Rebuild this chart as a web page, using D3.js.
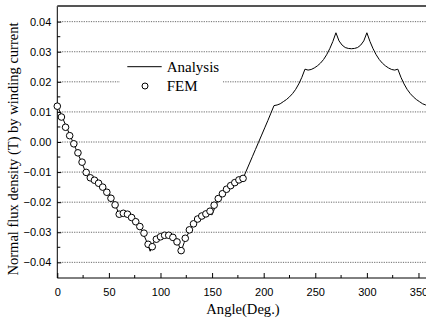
<!DOCTYPE html>
<html>
<head>
<meta charset="utf-8">
<script src="https://cdn.jsdelivr.net/npm/d3@7"></script>
<style>
  html, body { margin: 0; padding: 0; background: #fff; }
  svg { display: block; }
</style>
</head>
<body>
<svg id="chart" width="426" height="322"></svg>
<script>
// Analytical normal flux density, sampled every 3 degrees from 0 to 360
const analysisAngle = d3.range(0, 361, 3);
const analysisValue = [
  0.0121, 0.0097, 0.0073, 0.0049, 0.0025, 0.0001, -0.0023, -0.0047, -0.0071, -0.0096, -0.0121,
  -0.0123, -0.0127, -0.0134, -0.0141, -0.0150, -0.0161, -0.0175, -0.0193, -0.0215, -0.0242,
  -0.0239, -0.0241, -0.0246, -0.0253, -0.0262, -0.0274, -0.0290, -0.0310, -0.0334, -0.0363,
  -0.0336, -0.0322, -0.0314, -0.0311, -0.0310, -0.0311, -0.0314, -0.0322, -0.0336, -0.0363,
  -0.0334, -0.0310, -0.0290, -0.0274, -0.0262, -0.0253, -0.0246, -0.0241, -0.0239, -0.0242,
  -0.0215, -0.0193, -0.0175, -0.0161, -0.0150, -0.0141, -0.0134, -0.0127, -0.0123, -0.0121,
  -0.0097, -0.0073, -0.0049, -0.0025, -0.0001, 0.0023, 0.0047, 0.0071, 0.0096, 0.0121,
  0.0123, 0.0127, 0.0134, 0.0141, 0.0150, 0.0161, 0.0175, 0.0193, 0.0215, 0.0242,
  0.0239, 0.0241, 0.0246, 0.0253, 0.0262, 0.0274, 0.0290, 0.0310, 0.0334, 0.0363,
  0.0336, 0.0322, 0.0314, 0.0311, 0.0310, 0.0311, 0.0314, 0.0322, 0.0336, 0.0363,
  0.0334, 0.0310, 0.0290, 0.0274, 0.0262, 0.0253, 0.0246, 0.0241, 0.0239, 0.0242,
  0.0215, 0.0193, 0.0175, 0.0161, 0.0150, 0.0141, 0.0134, 0.0127, 0.0123, 0.0121
];

// FEM results every 4 degrees over the first half turn
const femAngle = d3.range(0, 181, 4);
const femValue = [
  0.0119, 0.0083, 0.0049, 0.0021, -0.0006, -0.0036, -0.0067, -0.0101, -0.0119, -0.0127,
  -0.0137, -0.0150, -0.0167, -0.0187, -0.0209, -0.0240, -0.0237, -0.0240, -0.0251, -0.0265,
  -0.0281, -0.0303, -0.0340, -0.0348, -0.0323, -0.0315, -0.0310, -0.0310, -0.0317, -0.0332,
  -0.0361, -0.0320, -0.0292, -0.0272, -0.0256, -0.0246, -0.0239, -0.0230, -0.0210, -0.0188,
  -0.0172, -0.0157, -0.0145, -0.0135, -0.0126, -0.0121
];

const xTicks = [0, 50, 100, 150, 200, 250, 300, 350];
const xMinorTicks = [25, 75, 125, 175, 225, 275, 325];
const yTicks = [-0.04, -0.03, -0.02, -0.01, 0.00, 0.01, 0.02, 0.03, 0.04];
const yMinorTicks = [-0.035, -0.025, -0.015, -0.005, 0.005, 0.015, 0.025, 0.035];

const seriesNames = ["Analysis", "FEM"];
const xTitle = "Angle(Deg.)";
const yTitle = "Normal flux density (T) by winding current";

const svg = d3.select("#chart");
const plotLeft = 57.3, plotRight = 428.8, plotTop = 6, plotBottom = 278;

const x = d3.scaleLinear().domain([0, 360]).range([plotLeft, plotRight]);
const y = d3.scaleLinear().domain([-0.0452, 0.0452]).range([plotBottom, plotTop]);

svg.append("defs").append("clipPath").attr("id", "plotArea")
  .append("rect").attr("x", plotLeft).attr("y", plotTop)
  .attr("width", plotRight - plotLeft).attr("height", plotBottom - plotTop);

// Dotted horizontal grid at major ticks
svg.append("g").selectAll("line").data(yTicks).join("line")
  .attr("x1", plotLeft).attr("x2", plotRight)
  .attr("y1", d => y(d)).attr("y2", d => y(d))
  .attr("stroke", "#444").attr("stroke-width", 0.8)
  .attr("stroke-dasharray", "1.2,1.2");

// Legend panel sits over the grid
svg.append("rect").attr("x", 120).attr("y", 58).attr("width", 103).attr("height", 42)
  .attr("fill", "#fff");

// Axes with inward ticks
const xAxis = svg.append("g").attr("transform", `translate(0,${plotBottom})`);
xAxis.call(d3.axisBottom(x).tickValues(xTicks).tickSize(-5).tickPadding(10).tickFormat(d3.format("d")));
xAxis.append("g").selectAll("line").data(xMinorTicks).join("line")
  .attr("x1", d => x(d)).attr("x2", d => x(d)).attr("y1", 0).attr("y2", -3)
  .attr("stroke", "#000");

const yAxis = svg.append("g").attr("transform", `translate(${plotLeft},0)`);
yAxis.call(d3.axisLeft(y).tickValues(yTicks).tickSize(-4).tickPadding(6).tickFormat(d3.format(".2f")));
yAxis.append("g").selectAll("line").data(yMinorTicks).join("line")
  .attr("x1", 0).attr("x2", 3).attr("y1", d => y(d)).attr("y2", d => y(d))
  .attr("stroke", "#000");

svg.selectAll(".domain").attr("stroke", "#000").attr("stroke-width", 1);
svg.selectAll(".tick text")
  .attr("font-family", "'Liberation Sans', Arial, sans-serif")
  .attr("font-size", 11).attr("fill", "#000");
yAxis.selectAll(".domain").attr("d", `M0,${plotBottom}V${plotTop}`);
xAxis.selectAll(".domain").attr("d", `M${plotLeft},0H${plotRight}`);

// Top frame line
svg.append("line").attr("x1", plotLeft).attr("x2", plotRight).attr("y1", plotTop).attr("y2", plotTop)
  .attr("stroke", "#555").attr("stroke-width", 2);

// Analysis curve
const analysis = analysisAngle.map((a, i) => [a, analysisValue[i]]);
svg.append("path").datum(analysis)
  .attr("clip-path", "url(#plotArea)")
  .attr("fill", "none").attr("stroke", "#000").attr("stroke-width", 1)
  .attr("d", d3.line().x(d => x(d[0])).y(d => y(d[1])));

// FEM markers
const fem = femAngle.map((a, i) => [a, femValue[i]]);
svg.append("g").selectAll("circle").data(fem).join("circle")
  .attr("cx", d => x(d[0])).attr("cy", d => y(d[1])).attr("r", 3.3)
  .attr("fill", "#fff").attr("stroke", "#000").attr("stroke-width", 1);

// Legend
const legend = svg.append("g").attr("font-family", "'Liberation Serif', 'Times New Roman', serif")
  .attr("font-size", 15).attr("fill", "#000");
legend.append("line").attr("x1", 127.3).attr("x2", 161.7).attr("y1", 66.7).attr("y2", 66.7)
  .attr("stroke", "#000").attr("stroke-width", 1);
legend.append("text").attr("x", 166.7).attr("y", 72).text(seriesNames[0]);
legend.append("circle").attr("cx", 145).attr("cy", 86).attr("r", 3)
  .attr("fill", "#fff").attr("stroke", "#000");
legend.append("text").attr("x", 166.7).attr("y", 91).text(seriesNames[1]);

// Axis titles
svg.append("text").attr("x", 243).attr("y", 314).attr("text-anchor", "middle")
  .attr("font-family", "'Liberation Serif', 'Times New Roman', serif").attr("font-size", 14.6)
  .text(xTitle);
svg.append("text").attr("transform", "translate(18.3,149) rotate(-90)").attr("text-anchor", "middle")
  .attr("font-family", "'Liberation Serif', 'Times New Roman', serif").attr("font-size", 14.5)
  .text(yTitle);
</script>
</body>
</html>
